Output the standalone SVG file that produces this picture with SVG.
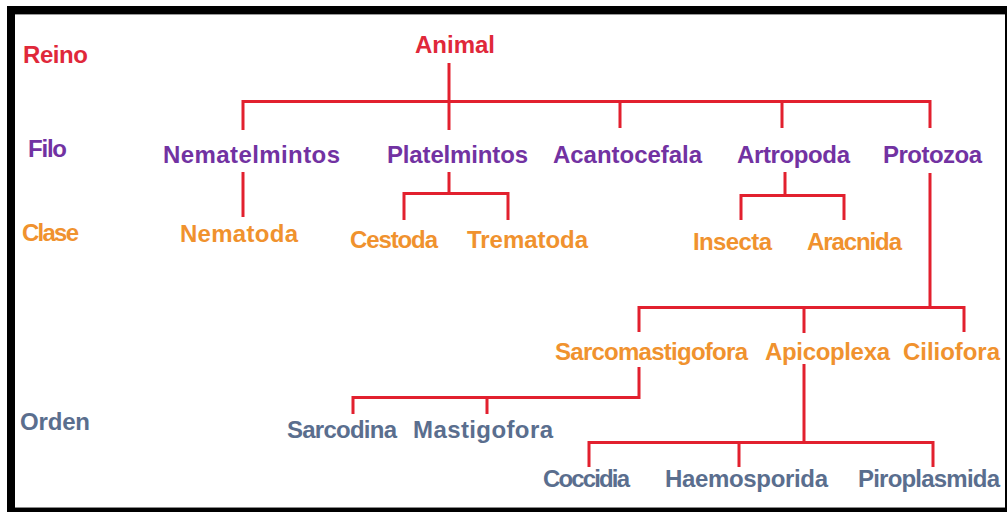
<svg xmlns="http://www.w3.org/2000/svg" width="1007" height="512" viewBox="0 0 1007 512">
<style>
text{font-family:"Liberation Sans",Arial,sans-serif;font-weight:bold;font-size:24px}
.r{fill:#e0283a}.p{fill:#7232a2}.o{fill:#f0922e}.b{fill:#5a6e8e}
#connectors path{fill:none;stroke:#e2202e;stroke-width:3}
</style>
<rect x="0" y="0" width="1007" height="512" fill="#ffffff"/>
<g id="frame">
<rect x="7" y="6" width="1000" height="8" fill="#000"/>
<rect x="7" y="6" width="8" height="506" fill="#000"/>
<rect x="7" y="508" width="1000" height="4" fill="#000"/>
<rect x="1005" y="6" width="2" height="506" fill="#000"/>
<line x1="15" y1="14.5" x2="1005" y2="14.5" stroke="#9a9a9a" stroke-width="1"/>
<line x1="15" y1="507.5" x2="1005" y2="507.5" stroke="#8a8a8a" stroke-width="1"/>
</g>
<g id="levels">
<text class="r" x="23" y="63" textLength="65">Reino</text>
<text class="p" x="28" y="157" textLength="39">Filo</text>
<text class="o" x="22" y="241" textLength="57">Clase</text>
<text class="b" x="20" y="430" textLength="70">Orden</text>
</g>
<g id="connectors">
<path d="M449 63V130"/>
<path d="M243 130V101.5H930V128"/>
<path d="M620 101.5V128M782 101.5V128"/>
<path d="M243 172V217"/>
<path d="M449 172V193.5M404 220V193.5H508V220"/>
<path d="M785 172V195.5M741 220V195.5H844V220"/>
<path d="M930 173V307.5M639 332V307.5H964V332M804 307.5V333"/>
<path d="M639 367V397.5H353V414M487 397.5V414"/>
<path d="M804 364V442.5M589 467V442.5H933V467M739 442.5V467"/>
</g>
<g id="n-animal"><text class="r" x="415" y="53" textLength="80">Animal</text></g>
<g id="n-nematelmintos"><text class="p" x="163" y="163" textLength="177">Nematelmintos</text></g>
<g id="n-platelmintos"><text class="p" x="387" y="163" textLength="141">Platelmintos</text></g>
<g id="n-acantocefala"><text class="p" x="553" y="163" textLength="149">Acantocefala</text></g>
<g id="n-artropoda"><text class="p" x="737" y="163" textLength="113">Artropoda</text></g>
<g id="n-protozoa"><text class="p" x="883" y="163" textLength="99">Protozoa</text></g>
<g id="n-nematoda"><text class="o" x="180" y="242" textLength="118">Nematoda</text></g>
<g id="n-cestoda"><text class="o" x="350" y="248" textLength="88">Cestoda</text></g>
<g id="n-trematoda"><text class="o" x="467" y="248" textLength="121">Trematoda</text></g>
<g id="n-insecta"><text class="o" x="693" y="250" textLength="79">Insecta</text></g>
<g id="n-aracnida"><text class="o" x="807" y="250" textLength="95">Aracnida</text></g>
<g id="n-sarcomastigofora"><text class="o" x="555" y="360" textLength="193">Sarcomastigofora</text></g>
<g id="n-apicoplexa"><text class="o" x="765" y="360" textLength="125">Apicoplexa</text></g>
<g id="n-ciliofora"><text class="o" x="903" y="360" textLength="97">Ciliofora</text></g>
<g id="n-sarcodina"><text class="b" x="287" y="438" textLength="110">Sarcodina</text></g>
<g id="n-mastigofora"><text class="b" x="413" y="438" textLength="140">Mastigofora</text></g>
<g id="n-coccidia"><text class="b" x="543" y="487" textLength="87">Coccidia</text></g>
<g id="n-haemosporida"><text class="b" x="665" y="487" textLength="163">Haemosporida</text></g>
<g id="n-piroplasmida"><text class="b" x="858" y="487" textLength="142">Piroplasmida</text></g>
</svg>
